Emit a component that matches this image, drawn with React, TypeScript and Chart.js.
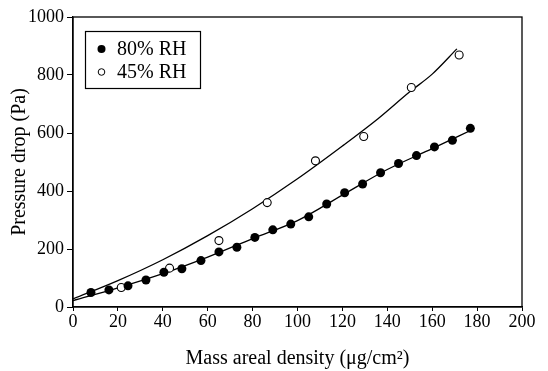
import React, { useEffect, useRef } from "react";
import { Chart, registerables } from "chart.js";

Chart.register(...registerables);

const rh80X = [8, 16, 24.5, 32.5, 40.5, 48.5, 57, 65, 73, 81, 89, 97, 105, 113, 121, 129, 137, 145, 153, 161, 169, 177];
const rh80Y = [50, 59, 73, 93, 120, 132, 160, 190, 206, 240, 266, 286, 311, 355, 394, 424, 463, 495, 522, 552, 575, 616];

const rh45X = [21.5, 43, 65, 86.5, 108, 129.5, 150.7, 172];
const rh45Y = [67, 134, 229, 360, 504, 588, 757, 869];

const fit80X = [0, 20, 40, 60, 80, 100, 120, 140, 160, 178];
const fit80Y = [22, 66, 115, 172, 236, 298, 386, 474, 546, 612];

const fit45X = [0, 20, 40, 60, 80, 100, 120, 136, 150, 160, 171];
const fit45Y = [28, 91, 163, 246, 339, 442, 555, 650, 742, 803, 890];

const xTicks = [0, 20, 40, 60, 80, 100, 120, 140, 160, 180, 200];
const yTicks = [0, 200, 400, 600, 800, 1000];

const legendLabels = ["80% RH", "45% RH"];

const FONT = "'Liberation Serif', 'Times New Roman', serif";

const frameAndLegend = {
  id: "frameAndLegend",
  afterDraw(chart: any) {
    const { ctx, chartArea } = chart;
    ctx.save();
    ctx.strokeStyle = "#000";
    ctx.lineWidth = 1.3;
    ctx.strokeRect(chartArea.left, chartArea.top, chartArea.right - chartArea.left, chartArea.bottom - chartArea.top);
    const bx = 85, by = 31, bw = 115, bh = 57;
    ctx.lineWidth = 1.2;
    ctx.strokeRect(bx + 0.5, by + 0.5, bw, bh);
    ctx.font = `20px ${FONT}`;
    ctx.fillStyle = "#000";
    ctx.textBaseline = "middle";
    ctx.textAlign = "left";
    const rows = [49, 72];
    ctx.beginPath();
    ctx.arc(101.5, rows[0], 4, 0, Math.PI * 2);
    ctx.fill();
    ctx.fillText(legendLabels[0], 117, rows[0] + 1);
    ctx.beginPath();
    ctx.arc(101.5, rows[1], 3.3, 0, Math.PI * 2);
    ctx.lineWidth = 1;
    ctx.stroke();
    ctx.fillText(legendLabels[1], 117, rows[1] + 1);
    ctx.restore();
  },
};

export default function App() {
  const ref = useRef<HTMLCanvasElement>(null);
  useEffect(() => {
    document.body.style.margin = "0";
    const toPts = (xs: number[], ys: number[]) => xs.map((x, i) => ({ x, y: ys[i] }));
    const chart = new Chart(ref.current!, {
      type: "scatter",
      data: {
        datasets: [
          {
            label: legendLabels[0],
            data: toPts(rh80X, rh80Y),
            pointRadius: 4.5,
            pointBackgroundColor: "#000",
            pointBorderColor: "#000",
            pointBorderWidth: 0,
            showLine: false,
          },
          {
            label: legendLabels[1],
            data: toPts(rh45X, rh45Y),
            pointRadius: 4,
            pointBackgroundColor: "#fff",
            pointBorderColor: "#000",
            pointBorderWidth: 1.1,
            showLine: false,
          },
          {
            label: "fit80",
            data: toPts(fit80X, fit80Y),
            showLine: true,
            pointRadius: 0,
            borderColor: "#000",
            borderWidth: 1.3,
            cubicInterpolationMode: "monotone",
          },
          {
            label: "fit45",
            data: toPts(fit45X, fit45Y),
            showLine: true,
            pointRadius: 0,
            borderColor: "#000",
            borderWidth: 1.3,
            cubicInterpolationMode: "monotone",
          },
        ],
      },
      options: {
        animation: false,
        responsive: false,
        layout: { padding: { top: 17, right: 26, left: 0, bottom: 0 } },
        plugins: {
          legend: { display: false },
          tooltip: { enabled: false },
        },
        scales: {
          x: {
            type: "linear",
            min: 0,
            max: 200,
            afterBuildTicks: (axis: any) => {
              axis.ticks = xTicks.map((v) => ({ value: v }));
            },
            afterFit: (axis: any) => {
              axis.height = 64;
            },
            grid: { drawOnChartArea: false, drawTicks: true, tickLength: 4, color: "#000", lineWidth: 1 },
            border: { display: true, color: "#000", width: 1.3 },
            ticks: { color: "#000", font: { family: FONT, size: 18 }, padding: 0, maxRotation: 0, callback: (v: any) => String(v) },
            title: {
              display: true,
              text: "Mass areal density (\u03bcg/cm\u00b2)",
              color: "#000",
              font: { family: FONT, size: 20 },
              padding: { top: 6, bottom: 0 },
            },
          },
          y: {
            type: "linear",
            min: 0,
            max: 1000,
            afterBuildTicks: (axis: any) => {
              axis.ticks = yTicks.map((v) => ({ value: v }));
            },
            afterFit: (axis: any) => {
              axis.width = 73;
            },
            grid: { drawOnChartArea: false, drawTicks: true, tickLength: 6, color: "#000", lineWidth: 1 },
            border: { display: true, color: "#000", width: 1.3 },
            ticks: { color: "#000", font: { family: FONT, size: 18 }, padding: 3, callback: (v: any) => String(v) },
            title: {
              display: true,
              text: "Pressure drop (Pa)",
              color: "#000",
              font: { family: FONT, size: 20 },
              padding: { top: 8, bottom: 0 },
            },
          },
        },
      },
      plugins: [frameAndLegend],
    });
    return () => chart.destroy();
  }, []);
  return (
    <div style={{ position: "absolute", left: 0, top: 0, width: 548, height: 371, background: "#fff" }}>
      <canvas ref={ref} width={548} height={371} style={{ width: 548, height: 371 }} />
    </div>
  );
}
